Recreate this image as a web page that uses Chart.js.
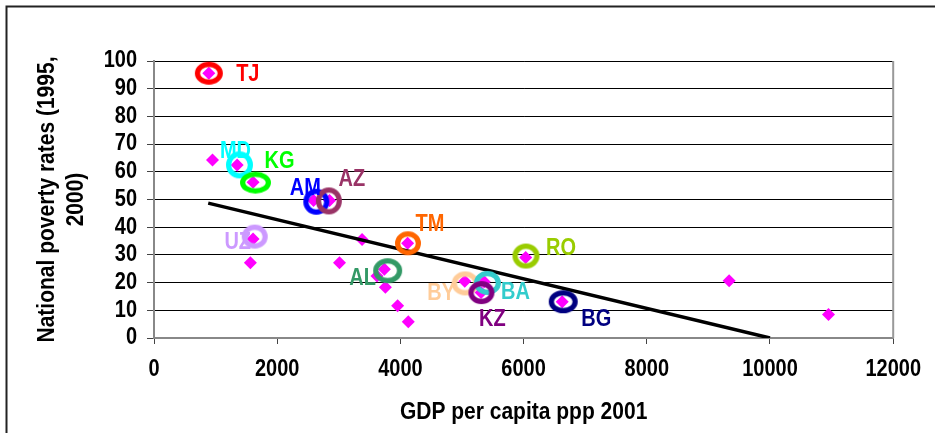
<!DOCTYPE html>
<html>
<head>
<meta charset="utf-8">
<script src="https://cdn.jsdelivr.net/npm/chart.js@4/dist/chart.umd.min.js"></script>
<style>
  html, body { margin: 0; padding: 0; background: #ffffff; }
  #chart { display: block; }
</style>
</head>
<body>
<canvas id="chart" width="935" height="433"></canvas>
<script>
// GDP per capita (PPP, 2001) against the national poverty rate (1995, 2000)
const gdpPerCapita = [890, 950, 1350, 1608, 2590, 2850, 1608, 1565, 3378, 4117, 3011, 3740, 3620, 3756, 3955, 4128, 5045, 5360, 5310, 6034, 6627, 9337, 10950];
const povertyRate  = [95.6, 64.3, 62.5, 56.2, 49.6, 49.6, 35.7, 27.2, 35.6, 34.2, 27.2, 24.8, 22.4, 18.3, 11.6, 5.9, 20.5, 20.3, 16.4, 29.1, 13.1, 20.7, 8.5];

// Countries that are circled and named
const highlightCodes   = ['TJ', 'MD', 'KG', 'AM', 'AZ', 'UZ', 'TM', 'AL', 'BY', 'BA', 'KZ', 'RO', 'BG'];
const highlightGdp     = [890, 1387, 1647, 2634, 2838, 1635, 4123, 3793, 5051, 5412, 5315, 6039, 6643];
const highlightPoverty = [95.6, 62.5, 56.1, 49.2, 49.5, 36.6, 34.2, 24.3, 19.7, 19.9, 16.4, 29.6, 13.1];

// Linear trend line end points
const trendGdp     = [880, 10000];
const trendPoverty = [48.7, 0];

// Axis ticks
const xTicks = [0, 2000, 4000, 6000, 8000, 10000, 12000];
const yTicks = [0, 10, 20, 30, 40, 50, 60, 70, 80, 90, 100];

// ---- styling ----
const FONT = "'Liberation Sans', Arial, sans-serif";
const TEXT_STRETCH = 1.15;

const ringColors = {
  TJ: '#FF0000', MD: '#00FFFF', KG: '#00FF00', AM: '#0000FF', AZ: '#993366',
  UZ: '#CC99FF', TM: '#FF6600', AL: '#339966', BY: '#FFCC99', BA: '#33CCCC',
  KZ: '#800080', RO: '#99CC00', BG: '#000080'
};
// outer width / height of each ellipse
const ringSizes = {
  TJ: [28, 23], MD: [27, 27], KG: [31, 22], AM: [26, 26], AZ: [26, 27],
  UZ: [26, 24], TM: [26, 24], AL: [29, 25], BY: [27, 24], BA: [27, 24],
  KZ: [26, 23], RO: [27, 25], BG: [29, 23]
};
// name placement relative to the ellipse centre (px)
const labelOffsets = {
  TJ: [39, 1], MD: [-4, -13], KG: [24, -21], AM: [-11, -13], AZ: [23, -21],
  UZ: [-17, 6], TM: [22, -19], AL: [-25, 8], BY: [-24, 10], BA: [28, 10],
  KZ: [11, 27], RO: [35, -7], BG: [33, 18]
};

function ringImage(color, w, h) {
  const lw = 5.2;
  const c = document.createElement('canvas');
  c.width = Math.ceil(w) + 2;
  c.height = Math.ceil(h) + 2;
  const g = c.getContext('2d');
  g.strokeStyle = color;
  g.lineWidth = lw;
  g.beginPath();
  g.ellipse(c.width / 2, c.height / 2, (w - lw) / 2, (h - lw) / 2, 0, 0, Math.PI * 2);
  g.stroke();
  return c;
}
const ringImages = highlightCodes.map(code => ringImage(ringColors[code], ringSizes[code][0], ringSizes[code][1]));

const canvas = document.getElementById('chart');
const ctx = canvas.getContext('2d');

// Text in this chart is set a little taller than the font's natural proportions
const nativeFillText = CanvasRenderingContext2D.prototype.fillText;
ctx.fillText = function (text, x, y, maxWidth) {
  this.save();
  this.translate(x, y);
  this.scale(1, TEXT_STRETCH);
  if (maxWidth === undefined) nativeFillText.call(this, text, 0, 0);
  else nativeFillText.call(this, text, 0, 0, maxWidth);
  this.restore();
};

const frameAndBorder = {
  id: 'frameAndBorder',
  beforeDraw(chart) {
    const c = chart.ctx;
    c.save();
    c.fillStyle = '#ffffff';
    c.fillRect(0, 0, chart.width, chart.height);
    c.strokeStyle = '#222222';
    c.lineWidth = 2;
    c.beginPath();
    c.moveTo(6.5, chart.height + 5);
    c.lineTo(6.5, 6.5);
    c.lineTo(chart.width + 5, 6.5);
    c.stroke();
    c.restore();
  },
  beforeDatasetsDraw(chart) {
    const a = chart.chartArea;
    const c = chart.ctx;
    c.save();
    c.strokeStyle = '#999999';
    c.lineWidth = 2;
    c.beginPath();
    c.moveTo(a.right, a.top);
    c.lineTo(a.right, a.bottom);
    c.stroke();
    c.restore();
  }
};

const countryLabels = {
  id: 'countryLabels',
  afterDatasetsDraw(chart) {
    const meta = chart.getDatasetMeta(2);
    const c = chart.ctx;
    c.save();
    c.font = 'bold 20px ' + FONT;
    c.textAlign = 'center';
    c.textBaseline = 'middle';
    meta.data.forEach((pt, i) => {
      const code = highlightCodes[i];
      const off = labelOffsets[code];
      c.fillStyle = ringColors[code];
      c.fillText(code, pt.x + off[0], pt.y + off[1]);
    });
    c.restore();
  }
};

new Chart(ctx, {
  type: 'scatter',
  data: {
    datasets: [
      {
        label: 'Poverty rate',
        data: gdpPerCapita.map((x, i) => ({ x: x, y: povertyRate[i] })),
        pointStyle: 'rectRot',
        pointRadius: 6.5,
        pointHoverRadius: 6.5,
        backgroundColor: '#FF00FF',
        borderColor: '#FF00FF',
        borderWidth: 0,
        order: 3
      },
      {
        type: 'line',
        label: 'Trend',
        data: trendGdp.map((x, i) => ({ x: x, y: trendPoverty[i] })),
        borderColor: '#000000',
        borderWidth: 3.5,
        pointRadius: 0,
        fill: false,
        tension: 0,
        order: 2
      },
      {
        label: 'Highlighted countries',
        data: highlightGdp.map((x, i) => ({ x: x, y: highlightPoverty[i] })),
        pointStyle: (c) => ringImages[c.dataIndex],
        pointRadius: 12,
        pointHoverRadius: 12,
        order: 1
      }
    ]
  },
  options: {
    responsive: false,
    animation: false,
    devicePixelRatio: 1,
    events: [],
    layout: { padding: { left: 0, top: 61, right: 40, bottom: 0 } },
    plugins: {
      legend: { display: false },
      tooltip: { enabled: false }
    },
    scales: {
      x: {
        type: 'linear',
        min: 0,
        max: 12000,
        afterBuildTicks: (s) => { s.ticks = xTicks.map(v => ({ value: v })); },
        afterFit: (s) => { s.height = 95; },
        ticks: {
          font: { family: FONT, size: 20, weight: 'bold' },
          color: '#000000',
          padding: 14,
          maxRotation: 0,
          autoSkip: false,
          callback: (v) => String(v)
        },
        grid: {
          drawOnChartArea: false,
          drawTicks: true,
          tickLength: 6,
          tickColor: '#444444'
        },
        border: { display: true, color: '#888888', width: 2 },
        title: {
          display: true,
          text: 'GDP per capita ppp 2001',
          color: '#000000',
          font: { family: FONT, size: 21, weight: 'bold', lineHeight: 1.2 },
          padding: { top: 0, bottom: 8 }
        }
      },
      y: {
        type: 'linear',
        min: 0,
        max: 100,
        afterBuildTicks: (s) => { s.ticks = yTicks.map(v => ({ value: v })); },
        afterFit: (s) => { s.width = 154; },
        ticks: {
          font: { family: FONT, size: 20, weight: 'bold' },
          color: '#000000',
          padding: 10,
          autoSkip: false,
          callback: (v) => String(v)
        },
        grid: {
          color: (c) => (c.tick && c.tick.value === 0 ? 'rgba(0,0,0,0)' : '#000000'),
          tickColor: '#444444',
          lineWidth: 1,
          tickLength: 7
        },
        border: { display: true, color: '#888888', width: 2 },
        title: {
          display: true,
          text: ['National poverty rates (1995,', '2000)'],
          color: '#000000',
          font: { family: FONT, size: 21, weight: 'bold', lineHeight: 1.38 },
          padding: { top: 33, bottom: 0 }
        }
      }
    }
  },
  plugins: [frameAndBorder, countryLabels]
});
</script>
</body>
</html>
